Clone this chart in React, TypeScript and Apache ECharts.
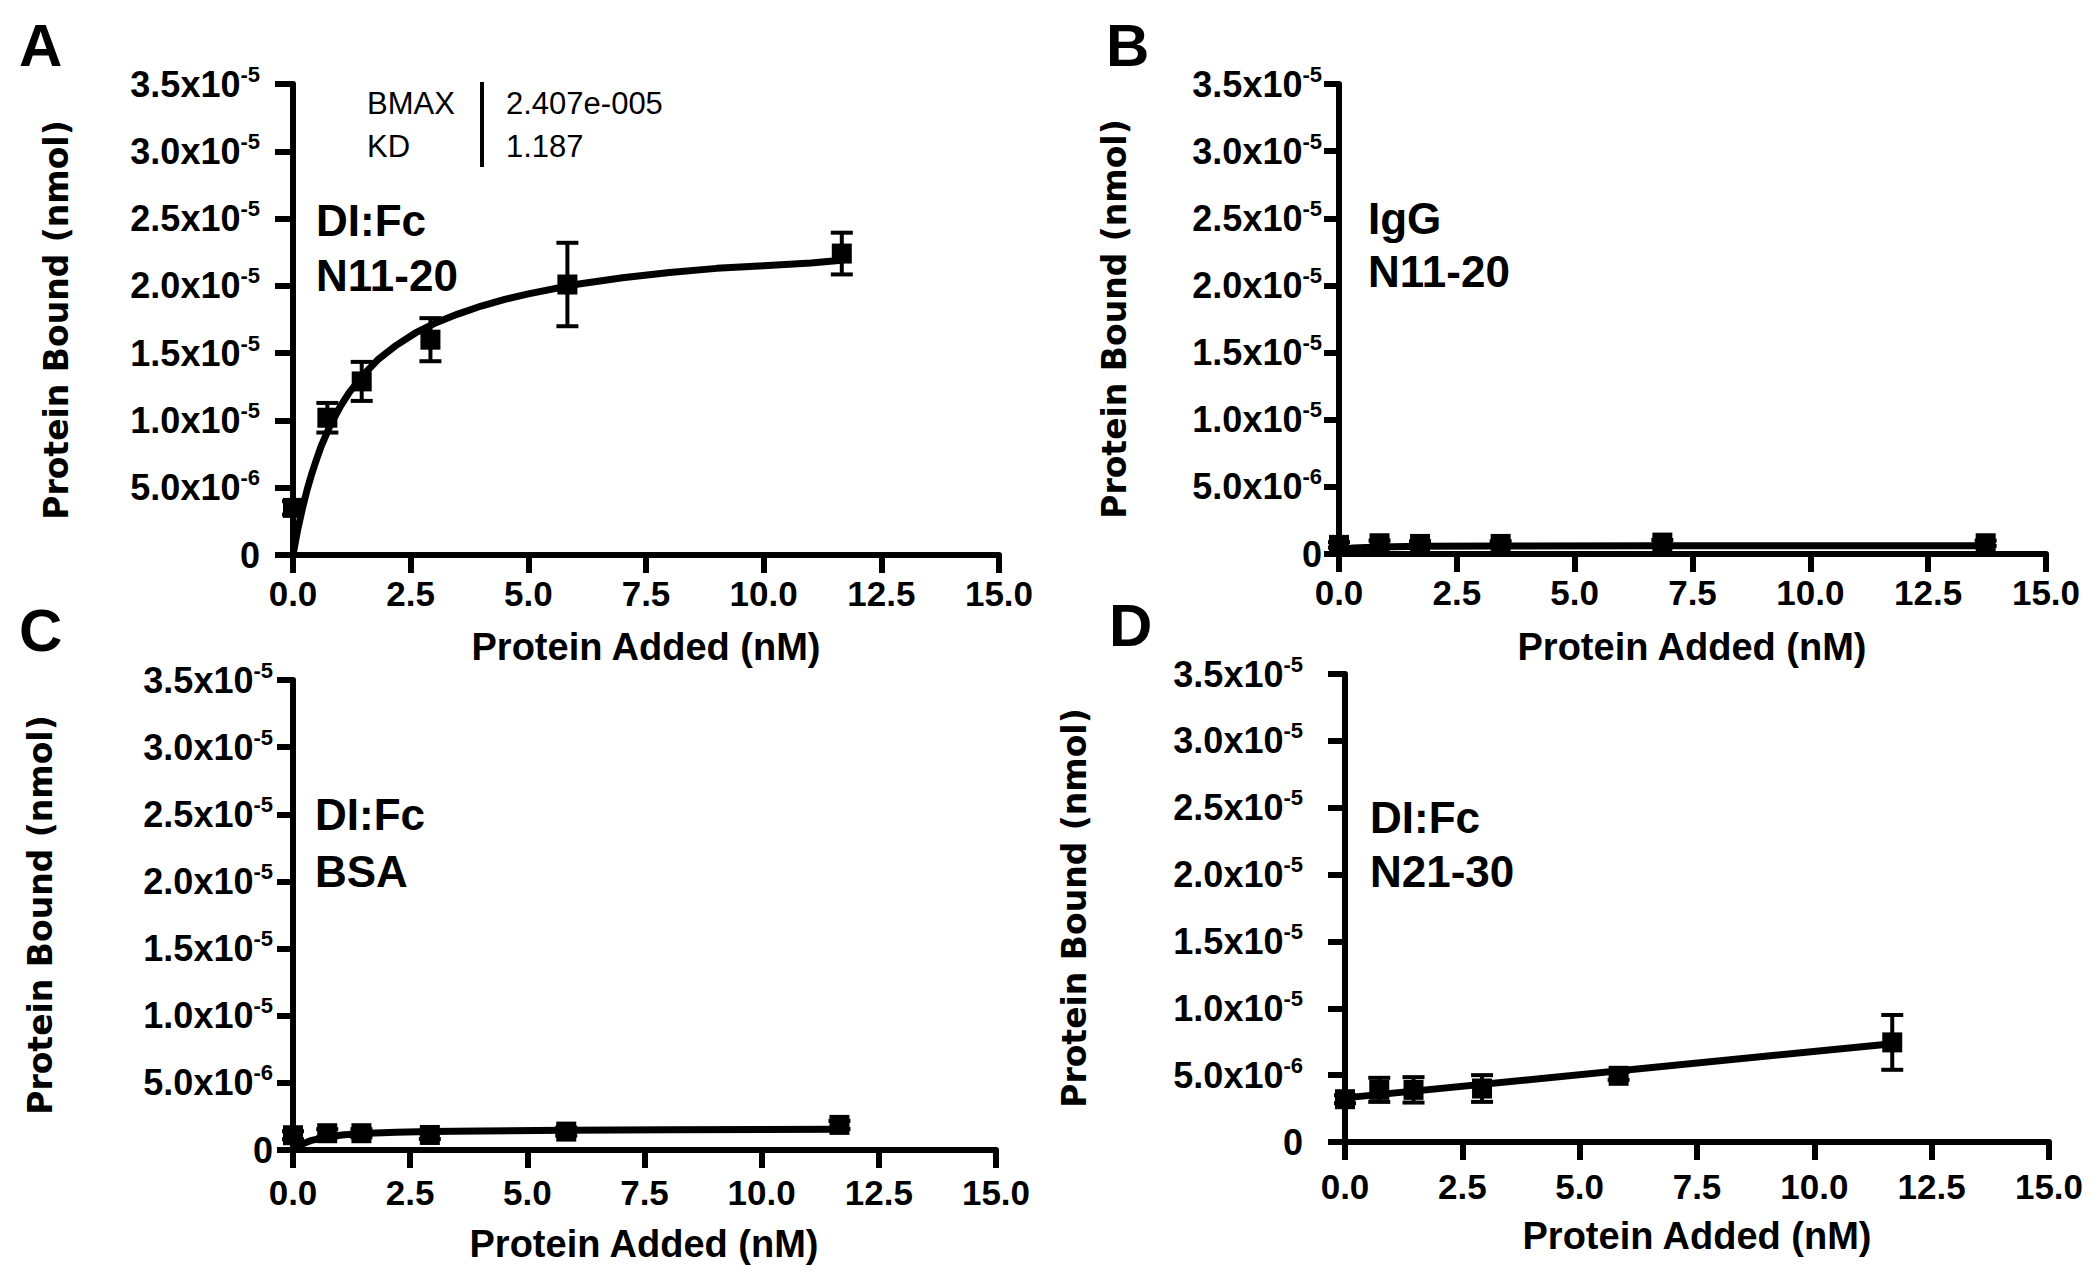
import React, { useEffect, useRef } from 'react';
import * as echarts from 'echarts';

const FONT = '"Liberation Sans", Arial, sans-serif';
const WIDE_FONT = '"DejaVu Sans", Verdana, sans-serif';

// tick labels
const xTickLabels = ['0.0', '2.5', '5.0', '7.5', '10.0', '12.5', '15.0'];
const yTickMantissa = ['0', '5.0', '1.0', '1.5', '2.0', '2.5', '3.0', '3.5'];
const yTickExponent = ['', '-6', '-5', '-5', '-5', '-5', '-5', '-5'];

// A: DI:Fc / N11-20
const aPointX = [0, 0.73, 1.46, 2.92, 5.83, 11.66];
const aPointY = [3.5e-6, 10.2e-6, 12.9e-6, 16.0e-6, 20.1e-6, 22.4e-6];
const aPointErr = [0.5e-6, 1.1e-6, 1.45e-6, 1.6e-6, 3.1e-6, 1.55e-6];
const aCurveX = [
  0, 0.1, 0.2, 0.3, 0.4, 0.5, 0.6, 0.8, 1.0, 1.2, 1.5, 1.8, 2.2, 2.6, 3.0, 3.5, 4.0, 4.5, 5.0,
  6.0, 7.0, 8.0, 9.0, 10.0, 11.0, 11.66,
];
const aCurveY = [
  0, 1.88e-6, 3.46e-6, 4.85e-6, 6.05e-6, 7.1e-6, 8.1e-6, 9.7e-6, 11.0e-6, 12.1e-6,
  13.4e-6, 14.5e-6, 15.6e-6, 16.5e-6, 17.2e-6, 17.9e-6, 18.5e-6, 19.0e-6, 19.4e-6,
  20.1e-6, 20.6e-6, 21.0e-6, 21.3e-6, 21.5e-6, 21.7e-6, 21.9e-6,
];

// B: IgG / N11-20
const bPointX = [0, 0.86, 1.72, 3.43, 6.86, 13.72];
const bPointY = [0.68e-6, 0.8e-6, 0.75e-6, 0.75e-6, 0.85e-6, 0.8e-6];
const bPointErr = [0.2e-6, 0.2e-6, 0.2e-6, 0.2e-6, 0.2e-6, 0.2e-6];
const bCurveX = [0, 0.3, 0.86, 1.72, 3.43, 6.86, 13.72];
const bCurveY = [0.32e-6, 0.45e-6, 0.52e-6, 0.58e-6, 0.6e-6, 0.62e-6, 0.62e-6];

// C: DI:Fc / BSA
const cPointX = [0, 0.73, 1.46, 2.92, 5.83, 11.66];
const cPointY = [1.1e-6, 1.25e-6, 1.25e-6, 1.12e-6, 1.37e-6, 1.87e-6];
const cPointErr = [0.3e-6, 0.3e-6, 0.3e-6, 0.3e-6, 0.3e-6, 0.3e-6];
const cCurveX = [0, 0.1, 0.2, 0.4, 0.73, 1.1, 1.46, 2.2, 2.92, 4.0, 5.83, 8.0, 11.66];
const cCurveY = [
  0, 0.26e-6, 0.45e-6, 0.72e-6, 0.98e-6, 1.13e-6, 1.22e-6, 1.32e-6, 1.38e-6, 1.42e-6,
  1.47e-6, 1.5e-6, 1.55e-6,
];

// D: DI:Fc / N21-30
const dPointX = [0, 0.73, 1.46, 2.92, 5.83, 11.66];
const dPointY = [3.2e-6, 3.9e-6, 3.9e-6, 4.0e-6, 4.95e-6, 7.45e-6];
const dPointErr = [0.3e-6, 0.9e-6, 0.95e-6, 1.0e-6, 0.3e-6, 2.05e-6];
const dCurveX = [0, 11.66];
const dCurveY = [3.3e-6, 7.35e-6];

const panelData = [
  { px: aPointX, py: aPointY, pe: aPointErr, cx: aCurveX, cy: aCurveY },
  { px: bPointX, py: bPointY, pe: bPointErr, cx: bCurveX, cy: bCurveY },
  { px: cPointX, py: cPointY, pe: cPointErr, cx: cCurveX, cy: cCurveY },
  { px: dPointX, py: dPointY, pe: dPointErr, cx: dCurveX, cy: dCurveY },
];

const panelLetters = ['A', 'B', 'C', 'D'];
const panelNotes = [
  ['DI:Fc', 'N11-20'],
  ['IgG', 'N11-20'],
  ['DI:Fc', 'BSA'],
  ['DI:Fc', 'N21-30'],
];
const fitParamNames = ['BMAX', 'KD'];
const fitParamValues = ['2.407e-005', '1.187'];

const X_TITLE = 'Protein Added (nM)';
const Y_TITLE = 'Protein Bound (nmol)';

// layout, in page pixels
const layout = [
  { grid: { left: 293, top: 84, width: 706, height: 471 }, yMargin: 33, yTick: 18, xMargin: 21,
    letter: [19, 45], notes: [316, 220, 275], yTitle: [56, 320], xTitle: [646, 647] },
  { grid: { left: 1339, top: 84, width: 707, height: 470 }, yMargin: 17, yTick: 15, xMargin: 21,
    letter: [1106, 45], notes: [1368, 218, 271], yTitle: [1114, 319], xTitle: [1692, 647] },
  { grid: { left: 293, top: 680, width: 703, height: 470 }, yMargin: 20, yTick: 16, xMargin: 25,
    letter: [19, 630], notes: [315, 814, 871], yTitle: [40, 915], xTitle: [644, 1244] },
  { grid: { left: 1345, top: 674, width: 704, height: 468 }, yMargin: 42, yTick: 17, xMargin: 27,
    letter: [1109, 625], notes: [1370, 817, 871], yTitle: [1074, 908], xTitle: [1697, 1236] },
];

const yLabel = (v: number) => {
  const i = Math.round(v / 5e-6);
  if (i === 0) return '{m|0}';
  return `{m|${yTickMantissa[i]}x10}{s|${yTickExponent[i]}}`;
};

const text = (x: number, y: number, str: string, size: number, opts: any = {}) => ({
  type: 'text',
  x,
  y,
  rotation: opts.rotation || 0,
  style: {
    text: str,
    fontSize: size,
    fontWeight: opts.weight || 'bold',
    fontFamily: opts.family || FONT,
    fill: '#000',
    align: opts.align || 'left',
    verticalAlign: 'middle',
  },
});

const App: React.FC = () => {
  const chartRef = useRef<HTMLDivElement>(null);

  useEffect(() => {
    if (!chartRef.current) return;
    const chart = echarts.init(chartRef.current, undefined, { renderer: 'svg' });

    const axisLine = { show: true, onZero: false, lineStyle: { color: '#000', width: 6 } };

    const xAxis = layout.map((l, i) => ({
      type: 'value',
      gridIndex: i,
      min: 0,
      max: 15,
      interval: 2.5,
      axisLine,
      axisTick: { show: true, length: 18, lineStyle: { color: '#000', width: 6 } },
      splitLine: { show: false },
      axisLabel: {
        margin: l.xMargin,
        fontSize: 35,
        fontWeight: 'bold',
        fontFamily: FONT,
        color: '#000',
        formatter: (v: number) => xTickLabels[Math.round(v / 2.5)],
      },
    }));

    const yAxis = layout.map((l, i) => ({
      type: 'value',
      gridIndex: i,
      min: 0,
      max: 3.5e-5,
      interval: 5e-6,
      axisLine,
      axisTick: { show: true, length: l.yTick, lineStyle: { color: '#000', width: 6 } },
      splitLine: { show: false },
      axisLabel: {
        margin: l.yMargin,
        color: '#000',
        formatter: yLabel,
        rich: {
          m: { fontSize: 36, fontWeight: 'bold', fontFamily: FONT, color: '#000', lineHeight: 42 },
          s: { fontSize: 22, fontWeight: 'bold', fontFamily: FONT, color: '#000', lineHeight: 30, verticalAlign: 'top' },
        },
      },
    }));

    const series: any[] = [];
    panelData.forEach((d, i) => {
      series.push({
        type: 'line',
        xAxisIndex: i,
        yAxisIndex: i,
        data: d.cx.map((x, j) => [x, d.cy[j]]),
        showSymbol: false,
        smooth: false,
        clip: false,
        lineStyle: { color: '#000', width: 7, join: 'round', cap: 'round' },
        z: 2,
      });
      series.push({
        type: 'custom',
        xAxisIndex: i,
        yAxisIndex: i,
        data: d.px.map((x, j) => [x, d.py[j] - d.pe[j], d.py[j] + d.pe[j]]),
        encode: { x: 0, y: [1, 2] },
        clip: false,
        z: 3,
        renderItem: (params: any, api: any) => {
          const x = api.value(0);
          const lo = api.coord([x, api.value(1)]);
          const hi = api.coord([x, api.value(2)]);
          const w = 11;
          const st = { stroke: '#000', lineWidth: 4 };
          return {
            type: 'group',
            children: [
              { type: 'line', shape: { x1: hi[0], y1: hi[1], x2: lo[0], y2: lo[1] }, style: st },
              { type: 'line', shape: { x1: hi[0] - w, y1: hi[1], x2: hi[0] + w, y2: hi[1] }, style: st },
              { type: 'line', shape: { x1: lo[0] - w, y1: lo[1], x2: lo[0] + w, y2: lo[1] }, style: st },
            ],
          };
        },
      });
      series.push({
        type: 'scatter',
        xAxisIndex: i,
        yAxisIndex: i,
        data: d.px.map((x, j) => [x, d.py[j]]),
        symbol: 'rect',
        symbolSize: 20,
        clip: false,
        itemStyle: { color: '#000', opacity: 1 },
        z: 4,
      });
    });

    const graphic: any[] = [];
    layout.forEach((l, i) => {
      graphic.push(text(l.letter[0], l.letter[1], panelLetters[i], 60));
      graphic.push(text(l.notes[0], l.notes[1], panelNotes[i][0], 44));
      graphic.push(text(l.notes[0], l.notes[2], panelNotes[i][1], 44));
      graphic.push(text(l.xTitle[0], l.xTitle[1], X_TITLE, 38, { align: 'center' }));
      graphic.push(
        text(l.yTitle[0], l.yTitle[1], Y_TITLE, 33, { align: 'center', family: WIDE_FONT, rotation: Math.PI / 2 })
      );
    });
    // fit results box in panel A
    graphic.push(text(367, 103, fitParamNames[0], 31, { weight: 'normal' }));
    graphic.push(text(367, 146, fitParamNames[1], 31, { weight: 'normal' }));
    graphic.push(text(506, 103, fitParamValues[0], 31, { weight: 'normal' }));
    graphic.push(text(506, 146, fitParamValues[1], 31, { weight: 'normal' }));
    graphic.push({
      type: 'line',
      shape: { x1: 482, y1: 82, x2: 482, y2: 167 },
      style: { stroke: '#000', lineWidth: 4 },
    });

    chart.setOption({
      animation: false,
      backgroundColor: '#fff',
      textStyle: { fontFamily: FONT },
      grid: layout.map((l) => ({ ...l.grid, containLabel: false })),
      xAxis,
      yAxis,
      series,
      graphic,
    });

    return () => {
      chart.dispose();
    };
  }, []);

  return (
    <div
      ref={chartRef}
      style={{ position: 'absolute', left: 0, top: 0, width: 2100, height: 1275, background: '#fff' }}
    />
  );
};

export default App;
